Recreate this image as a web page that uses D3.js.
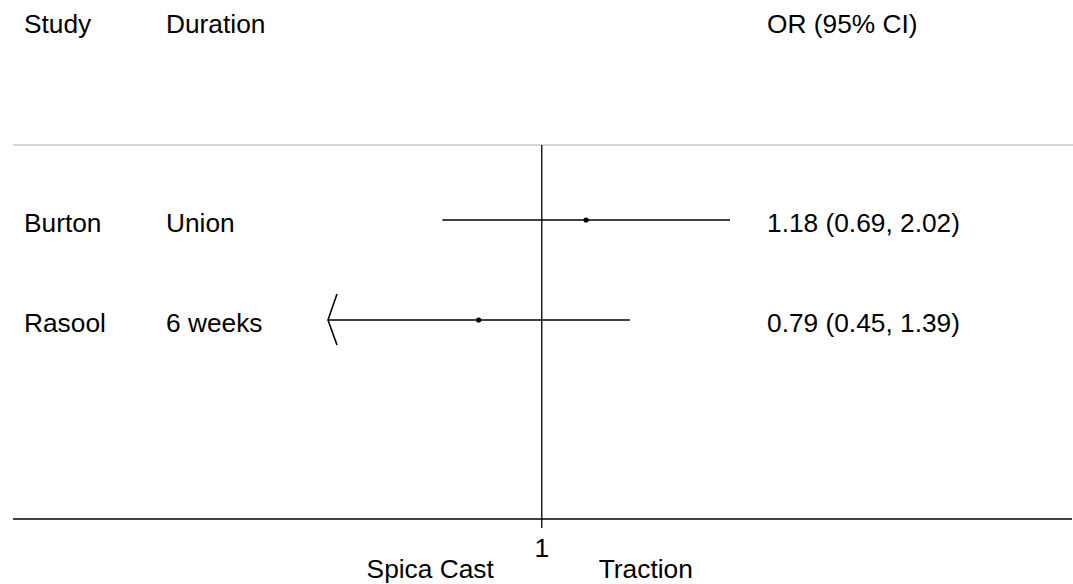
<!DOCTYPE html>
<html>
<head>
<meta charset="utf-8">
<script src="https://cdn.jsdelivr.net/npm/d3@7"></script>
<style>
  body { margin: 0; background: #fff; }
  text { font-family: "Liberation Sans", Arial, sans-serif; font-size: 26.3px; fill: #000; }
</style>
</head>
<body>
<svg id="chart"></svg>
<script>
const w = 1073,
      h = 584;

// data
const studies = ['Burton', 'Rasool'];
const durations = ['Union', '6 weeks'];
const or = [1.18, 0.79];
const ciLow = [0.69, 0.45];
const ciHigh = [2.02, 1.39];
const orLabels = ['1.18 (0.69, 2.02)', '0.79 (0.45, 1.39)'];
const headers = ['Study', 'Duration', 'OR (95% CI)'];
const xTicks = [1];
const favours = ['Spica Cast', 'Traction'];
const xLimit = [0.45, 2.02];  // plotted range of the OR axis

const svg = d3.select('#chart').attr('width', w).attr('height', h);

const x = d3.scaleLog().domain(xLimit).range([328, 730]);
const y = d3.scalePoint().domain(studies).range([220, 320]);

const colX = [24, 166, 767];
const topY = 145, axisY = 519;

// header
svg.selectAll('text.head')
   .data(headers)
   .enter().append('text')
   .attr('class', 'head')
   .attr('x', (d, i) => colX[i])
   .attr('y', 32.5)
   .text(d => d);

// grey separator
svg.append('line')
   .attr('x1', 13).attr('x2', 1073)
   .attr('y1', topY).attr('y2', topY)
   .attr('stroke', '#c8c8c8').attr('stroke-width', 1.5);

// bottom axis line
svg.append('line')
   .attr('x1', 13).attr('x2', 1072)
   .attr('y1', axisY).attr('y2', axisY)
   .attr('stroke', '#000').attr('stroke-width', 1.3);

// null line + tick
svg.append('line')
   .attr('x1', x(1)).attr('x2', x(1))
   .attr('y1', topY).attr('y2', axisY + 9)
   .attr('stroke', '#000').attr('stroke-width', 1.3);

svg.selectAll('text.tick')
   .data(xTicks)
   .enter().append('text')
   .attr('class', 'tick')
   .attr('x', d => x(d))
   .attr('y', 557)
   .attr('text-anchor', 'middle')
   .text(d => d);

svg.append('text').attr('x', x(1) - 48).attr('y', 578).attr('text-anchor', 'end').text(favours[0]);
svg.append('text').attr('x', x(1) + 57).attr('y', 578).text(favours[1]);

// rows
const rows = studies.map((s, i) => ({study: s, dur: durations[i], or: or[i], lo: ciLow[i], hi: ciHigh[i], label: orLabels[i]}));

const row = svg.selectAll('g.row')
   .data(rows)
   .enter().append('g')
   .attr('class', 'row');

row.append('text').attr('x', colX[0]).attr('y', d => y(d.study) + 12).text(d => d.study);
row.append('text').attr('x', colX[1]).attr('y', d => y(d.study) + 12).text(d => d.dur);
row.append('text').attr('x', colX[2]).attr('y', d => y(d.study) + 12).text(d => d.label);

row.append('line')
   .attr('x1', d => x(Math.max(d.lo, xLimit[0])))
   .attr('x2', d => x(Math.min(d.hi, xLimit[1])))
   .attr('y1', d => y(d.study)).attr('y2', d => y(d.study))
   .attr('stroke', '#000').attr('stroke-width', 1.6);

row.append('circle')
   .attr('cx', d => x(d.or))
   .attr('cy', d => y(d.study))
   .attr('r', 2.6)
   .attr('fill', '#000');

// arrow where the CI runs off the left of the axis
row.filter(d => d.lo <= xLimit[0])
   .append('path')
   .attr('d', d => {
       const x0 = x(xLimit[0]), y0 = y(d.study);
       return `M${x0 + 9},${y0 - 26}L${x0},${y0}L${x0 + 9},${y0 + 25}`;
   })
   .attr('fill', 'none')
   .attr('stroke', '#000').attr('stroke-width', 1.6);
</script>
</body>
</html>
